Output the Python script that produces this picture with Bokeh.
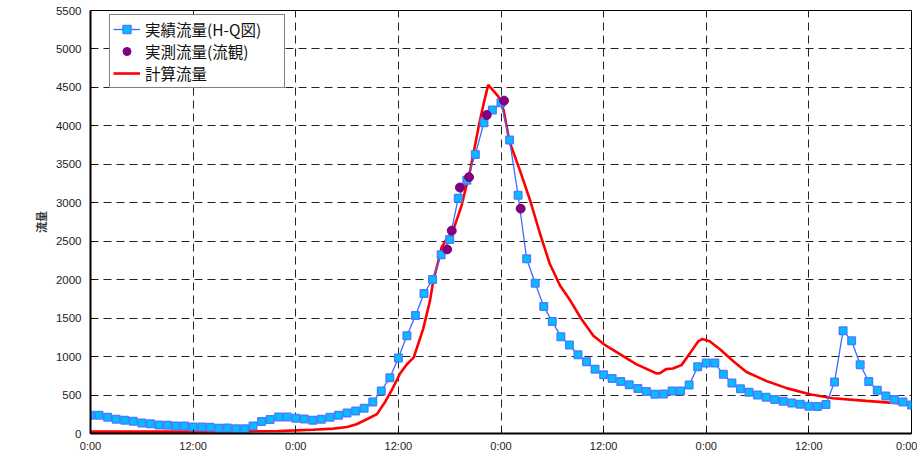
from bokeh.plotting import figure
from bokeh.models import Range1d, FixedTicker, Legend, LegendItem
from bokeh.embed import file_html
from bokeh.resources import INLINE

# ---------------- data ----------------
# hours from start (0:00 of day 1) ... 96 = 0:00 of day 5
hq_hours = list(range(0, 97))
hq_flow = [237, 237, 211, 185, 172, 159, 137, 128, 111, 107,
           98, 98, 85, 85, 81, 68, 72, 63, 63, 98,
           157, 183, 213, 213, 198, 187, 172, 185, 211, 237,
           267, 293, 329, 411, 554, 724, 981, 1272, 1535, 1820,
           2002, 2324, 2524, 3059, 3294, 3629, 4041, 4207, 4302, 3815,
           3098, 2272, 1954, 1650, 1455, 1259, 1150, 1024, 933, 837,
           763, 715, 676, 633, 585, 546, 511, 515, 554, 554,
           629, 867, 918, 916, 770, 655, 583, 535, 502, 472,
           441, 420, 396, 381, 355, 350, 376, 668, 1337, 1207,
           894, 676, 563, 489, 441, 411, 372]

obs_hours = [41.7, 42.24, 43.2, 44.26, 46.33, 48.35, 50.3]
obs_flow = [2394, 2637, 3198, 3333, 4141, 4328, 2924]

calc_hours = [0, 6, 12, 18, 22, 24, 26, 28.4, 30, 31.1, 32.3, 33.5, 34.5, 35.3,
              36.2, 37, 37.8, 38.9, 39.7, 40.1, 40.7, 41.06, 41.66, 42.4, 43.4,
              44.4, 45.5, 46.0, 46.5, 47.0, 47.7, 48.3, 49, 50.2, 51.4, 52.5,
              53.7, 54.9, 56.1, 57.4, 58.8, 60, 61.9, 63.8, 66.2,
              66.6, 67.3, 68.1, 68.9, 69.1, 70.1, 71.05, 71.5, 72.4, 73.6,
              75.1, 76.7, 79.2, 81.4, 84.1, 86.8, 90.7, 93.4, 96]
calc_flow = [25, 25, 25, 28, 33, 40, 48, 63, 85, 120, 185, 252, 420, 580,
             780, 900, 989, 1360, 1728, 2000, 2250, 2424, 2533, 2641, 2967,
             3424, 4054, 4300, 4533, 4470, 4380, 4207, 3793, 3424, 3033, 2620,
             2207, 1924, 1728, 1489, 1272, 1163, 1033, 902, 780,
             785, 837, 845, 881, 889, 1045, 1197, 1228, 1200, 1095,
             945, 800, 675, 590, 510, 459, 424, 402, 381]

x_ticks = [0, 12, 24, 36, 48, 60, 72, 84, 96]
x_tick_labels = ["0:00", "12:00", "0:00", "12:00", "0:00", "12:00", "0:00", "12:00", "0:00"]
y_ticks = list(range(0, 5501, 500))

series_names = ["実績流量(H-Q図)", "実測流量(流観)", "計算流量"]
y_label = "流量"

# ---------------- figure ----------------
p = figure(width=917, height=461, output_backend="svg", toolbar_location=None,
           x_range=Range1d(0, 96), y_range=Range1d(0, 5500),
           min_border_left=90, min_border_right=6, min_border_top=10, min_border_bottom=28)

p.outline_line_color = "black"
p.outline_line_width = 1
p.background_fill_color = "white"
p.border_fill_color = "white"

for g in (p.xgrid, p.ygrid):
    g.grid_line_color = "#222222"
    g.grid_line_dash = "8 5"
    g.grid_line_width = 1
p.xgrid.ticker = FixedTicker(ticks=x_ticks)
p.ygrid.ticker = FixedTicker(ticks=y_ticks)

p.xaxis.ticker = FixedTicker(ticks=x_ticks)
p.xaxis.major_label_overrides = {t: l for t, l in zip(x_ticks, x_tick_labels)}
p.yaxis.ticker = FixedTicker(ticks=y_ticks)

for ax in (p.xaxis, p.yaxis):
    ax.axis_line_color = "black"
    ax.axis_line_width = 2
    ax.major_tick_in = 4
    ax.major_tick_out = 0
    ax.minor_tick_in = 0
    ax.minor_tick_out = 0
    ax.major_tick_line_color = "black"
    ax.major_label_text_font = "Liberation Sans"
    ax.major_label_text_color = "#222222"
p.xaxis.major_label_text_font_size = "11px"
p.yaxis.major_label_text_font_size = "11.5px"
p.xaxis.major_label_standoff = 6
p.yaxis.major_label_standoff = 9

p.yaxis.axis_label = y_label
p.yaxis.axis_label_text_font = "Noto Sans CJK JP"
p.yaxis.axis_label_text_font_size = "11px"
p.yaxis.axis_label_text_font_style = "bold"
p.yaxis.axis_label_text_color = "#333333"
p.yaxis.axis_label_standoff = 4

# ---------------- glyphs ----------------
r_calc = p.line(calc_hours, calc_flow, line_color="#FF0000", line_width=2.6)
r_hq_line = p.line(hq_hours, hq_flow, line_color="#3A6BFF", line_width=1.3)
r_hq_pts = p.scatter(hq_hours, hq_flow, marker="square", size=7.5,
                     fill_color="#00BFFF", line_color="#4A7DFF", line_width=1.5)
r_obs = p.scatter(obs_hours, obs_flow, marker="circle", size=9,
                  fill_color="#800080", line_color="#800080")

legend = Legend(items=[
    LegendItem(label=series_names[0], renderers=[r_hq_line, r_hq_pts]),
    LegendItem(label=series_names[1], renderers=[r_obs]),
    LegendItem(label=series_names[2], renderers=[r_calc]),
], location=(19, 345))
legend.margin = 0
legend.padding = 3
legend.spacing = -1
legend.glyph_height = 20
legend.glyph_width = 27
legend.label_standoff = 5
legend.label_width = 136
legend.label_text_font = "Noto Sans CJK JP"
legend.label_text_font_size = "15.5px"
legend.label_text_color = "#111111"
legend.border_line_color = "black"
legend.border_line_width = 1
legend.background_fill_color = "white"
legend.background_fill_alpha = 1
p.add_layout(legend, "center")

open("out.html", "w").write(file_html(p, INLINE))
